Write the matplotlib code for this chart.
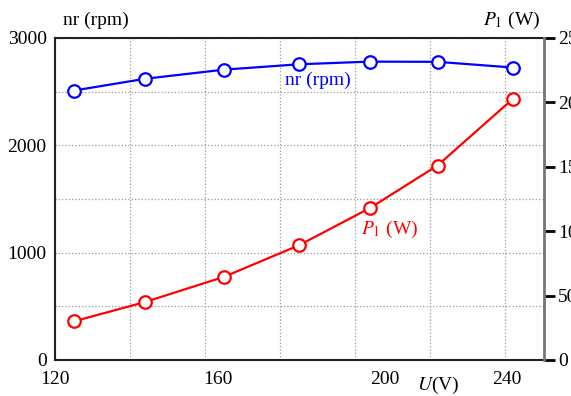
import numpy as np
import matplotlib
matplotlib.use("Agg")
import matplotlib.pyplot as plt
import matplotlib.transforms as mtransforms

plt.rcParams['font.family'] = ['Liberation Serif', 'DejaVu Serif']
plt.rcParams['mathtext.fontset'] = 'stix'

# data
U = [125, 144, 165, 185, 204, 222, 242]
nr = [2510, 2620, 2705, 2755, 2780, 2778, 2725]
P1 = [30, 45, 64.5, 89, 118, 151, 202.5]

x_ticks = [120, 160, 200, 240]
nr_ticks = [0, 1000, 2000, 3000]
p_ticks = [0, 50, 100, 150, 200, 250]

fig = plt.figure(figsize=(5.71, 3.96), dpi=100)
ax = fig.add_axes([55/571, 36/396, 489/571, 322/396])
ax2 = ax.twinx()

ax.set_xlim(120, 250.4)
ax.set_ylim(0, 3000)
ax2.set_ylim(0, 250)

# grid: every 20 V and every 500 rpm
ax.set_xticks(np.arange(140, 250, 20), minor=True)
ax.set_yticks(np.arange(500, 3000, 500), minor=True)
ax.grid(True, which='both', color='#999999', linestyle=':', linewidth=0.9)
ax.tick_params(which='minor', length=0)

ax.set_xticks(x_ticks)
ax.set_xticklabels([str(v) for v in x_ticks])
ax.set_yticks(nr_ticks)
ax.tick_params(axis='both', which='major', length=0, labelsize=14, pad=6)
ax.tick_params(axis='x', pad=8)

# the reference places the middle U labels a bit to the right
shifts = [0, 13, 30, 2]
for lab, dx in zip(ax.get_xticklabels(), shifts):
    lab.set_transform(lab.get_transform() +
                      mtransforms.ScaledTranslation(dx/100, 0, fig.dpi_scale_trans))

ax2.set_yticks(p_ticks)
ax2.tick_params(axis='y', direction='out', length=8, width=2, labelsize=14, pad=2)

for sp in ['left', 'bottom', 'top']:
    ax.spines[sp].set_linewidth(1.5)
    ax.spines[sp].set_color('#222222')
ax2.spines['right'].set_linewidth(2)
ax2.spines['right'].set_color('#777777')
for sp in ['left', 'bottom', 'top']:
    ax2.spines[sp].set_visible(False)

ax.plot(U, nr, color='#0000ff', lw=1.6, marker='o', ms=9, mfc='white',
        mec='#0000ff', mew=1.6, zorder=5, clip_on=False)
ax2.plot(U, P1, color='#ff0000', lw=1.6, marker='o', ms=9, mfc='white',
         mec='#ff0000', mew=1.6, zorder=5, clip_on=False)

fig.text(63/571, 1 - 20/396, 'nr (rpm)', fontsize=14, va='center', ha='left')
fig.text(540/571, 1 - 20/396, '$P_1$ (W)', fontsize=14, va='center', ha='right')
fig.text(318/571, 1 - 80/396, 'nr (rpm)', fontsize=14, va='center', ha='center',
         color='#0000ff')
fig.text(390/571, 1 - 229/396, '$P_1$ (W)', fontsize=14, va='center', ha='center',
         color='#ff0000')
fig.text(438/571, 1 - 385/396, '$U$(V)', fontsize=14, va='center', ha='center')

plt.savefig('out.png', dpi=100)
